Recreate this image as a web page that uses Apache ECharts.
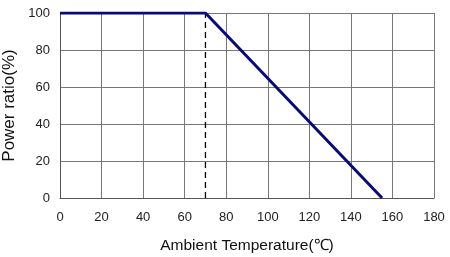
<!DOCTYPE html>
<html><head><meta charset="utf-8">
<script src="https://cdn.jsdelivr.net/npm/echarts@6/dist/echarts.min.js"></script>
<style>html,body{margin:0;padding:0;background:#fff}#c{width:450px;height:257px}</style>
</head><body><div id="c"></div>
<script>
const xTicks = [0, 20, 40, 60, 80, 100, 120, 140, 160, 180];
const yTicks = [0, 20, 40, 60, 80, 100];
const curveX = [0, 70, 155];
const curveY = [100, 100, 0];
const dashX = [70, 70];
const dashY = [0, 100];

const chart = echarts.init(document.getElementById('c'), null, {renderer: 'canvas'});
const font = 'Liberation Sans, Arial, sans-serif';
chart.setOption({
  animation: false,
  grid: {left: 60, right: 16, top: 13, bottom: 59, containLabel: false, outerBoundsMode: 'none'},
  xAxis: {
    type: 'value', min: xTicks[0], max: xTicks[xTicks.length - 1], interval: 20,
    name: 'Ambient Temperature(℃)', nameLocation: 'middle', nameGap: 40,
    nameTextStyle: {fontFamily: font, fontSize: 15.5, color: '#111'},
    axisLine: {show: true, lineStyle: {color: '#555', width: 1}},
    axisTick: {show: false},
    axisLabel: {fontFamily: font, fontSize: 13, color: '#222', margin: 13},
    splitLine: {show: true, lineStyle: {color: '#777', width: 1}}
  },
  yAxis: {
    type: 'value', min: yTicks[0], max: yTicks[yTicks.length - 1], interval: 20,
    name: 'Power ratio(%)', nameLocation: 'middle', nameGap: 33,
    nameTextStyle: {fontFamily: font, fontSize: 17, color: '#111'},
    axisLine: {show: true, lineStyle: {color: '#555', width: 1}},
    axisTick: {show: false},
    axisLabel: {fontFamily: font, fontSize: 13, color: '#222', margin: 10},
    splitLine: {show: true, lineStyle: {color: '#777', width: 1}}
  },
  series: [
    {
      type: 'line', symbol: 'none',
      data: dashX.map((x, i) => [x, dashY[i]]),
      lineStyle: {color: '#000', width: 1.3, type: [6, 4]},
      z: 3
    },
    {
      type: 'line', symbol: 'none',
      data: curveX.map((x, i) => [x, curveY[i]]),
      lineStyle: {color: '#0a0a78', width: 3},
      z: 4
    }
  ]
});
</script>
</body></html>
